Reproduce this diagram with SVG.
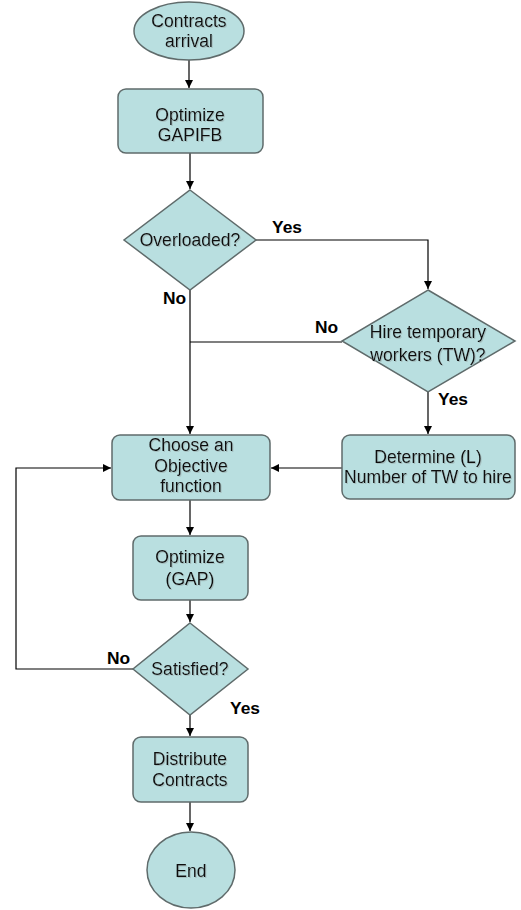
<svg xmlns="http://www.w3.org/2000/svg" width="521" height="910" viewBox="0 0 521 910">
<style>
.n{fill:#b9dfe0;stroke:#5f6b6b;stroke-width:1.5}
.t{font-family:"Liberation Sans",Arial,sans-serif;font-size:17.6px;fill:#111;text-anchor:middle;filter:url(#s)}
.l{font-family:"Liberation Sans",Arial,sans-serif;font-size:17.4px;font-weight:bold;fill:#000}
.c{fill:none;stroke:#000;stroke-width:1.2}
</style>
<defs>
<marker id="a" viewBox="0 0 10 10" refX="10" refY="5" markerWidth="8" markerHeight="8" markerUnits="userSpaceOnUse" orient="auto"><path d="M0,0L10,5L0,10z" fill="#000"/></marker>
<filter id="s" x="-10%" y="-20%" width="130%" height="150%"><feDropShadow dx="1" dy="1" stdDeviation="0.4" flood-color="#9aa" flood-opacity="0.6"/></filter>
</defs>
<g id="connectors">
<path class="c" d="M189,60V88" marker-end="url(#a)"/>
<path class="c" d="M190,153V189" marker-end="url(#a)"/>
<path class="c" d="M256,240H428V289" marker-end="url(#a)"/>
<path class="c" d="M190,290V434" marker-end="url(#a)"/>
<path class="c" d="M342,342H190"/>
<path class="c" d="M428,392V434" marker-end="url(#a)"/>
<path class="c" d="M342,468H271" marker-end="url(#a)"/>
<path class="c" d="M190,500V535" marker-end="url(#a)"/>
<path class="c" d="M190,600V622" marker-end="url(#a)"/>
<path class="c" d="M133,669H16V468H111" marker-end="url(#a)"/>
<path class="c" d="M190,715V736" marker-end="url(#a)"/>
<path class="c" d="M190,802V831" marker-end="url(#a)"/>
</g>
<g id="labels">
<text class="l" x="272" y="233">Yes</text>
<text class="l" x="163" y="304">No</text>
<text class="l" x="315" y="333">No</text>
<text class="l" x="438" y="405">Yes</text>
<text class="l" x="107" y="664">No</text>
<text class="l" x="230" y="714">Yes</text>
</g>
<g id="start"><ellipse class="n" cx="189" cy="31" rx="55" ry="29"/><text class="t" x="189" y="27">Contracts</text><text class="t" x="189" y="47">arrival</text></g>
<g id="optimize-gapifb"><rect class="n" x="118" y="89" width="145" height="64" rx="8"/><text class="t" x="190" y="121">Optimize</text><text class="t" x="190" y="141">GAPIFB</text></g>
<g id="overloaded"><path class="n" d="M190,190L256,240L190,290L124,240Z"/><text class="t" x="190" y="246">Overloaded?</text></g>
<g id="hire-tw"><path class="n" d="M428,290L515,341L428,392L342,341Z"/><text class="t" x="428" y="338">Hire temporary</text><text class="t" x="428" y="361">workers (TW)?</text></g>
<g id="choose-objective"><rect class="n" x="112" y="435" width="158" height="65" rx="8"/><text class="t" x="191" y="451">Choose an</text><text class="t" x="191" y="472">Objective</text><text class="t" x="191" y="492">function</text></g>
<g id="determine-l"><rect class="n" x="342" y="435" width="173" height="64" rx="8"/><text class="t" x="428" y="463">Determine (L)</text><text class="t" x="428" y="483">Number of TW to hire</text></g>
<g id="optimize-gap"><rect class="n" x="133" y="536" width="115" height="64" rx="8"/><text class="t" x="190" y="563">Optimize</text><text class="t" x="190" y="585">(GAP)</text></g>
<g id="satisfied"><path class="n" d="M190,623L248,669L190,715L133,669Z"/><text class="t" x="190" y="675">Satisfied?</text></g>
<g id="distribute"><rect class="n" x="133" y="737" width="115" height="65" rx="8"/><text class="t" x="190" y="765">Distribute</text><text class="t" x="190" y="786">Contracts</text></g>
<g id="end"><ellipse class="n" cx="191" cy="870" rx="44" ry="38"/><text class="t" x="191" y="877">End</text></g>
</svg>
